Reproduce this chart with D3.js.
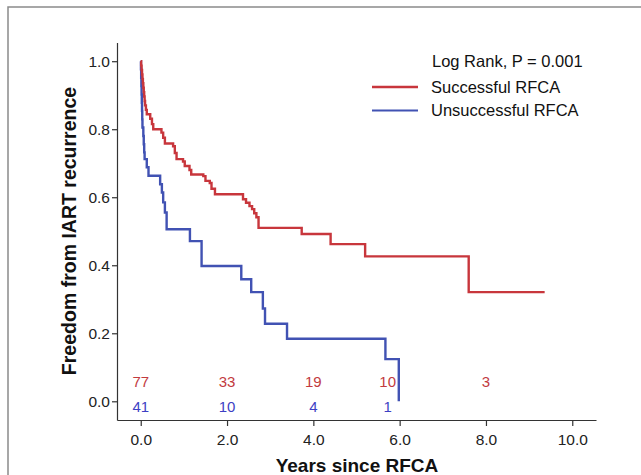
<!DOCTYPE html>
<html>
<head>
<meta charset="utf-8">
<script src="https://cdn.jsdelivr.net/npm/d3@7"></script>
<style>
  body { margin: 0; background: #fff; }
  svg { font-family: "Liberation Sans", Arial, sans-serif; }
</style>
</head>
<body>
<svg id="chart" width="641" height="475"></svg>
<script>
// Kaplan-Meier steps: [years, survival]
const successfulSteps = [
  [0, 1.0], [0.01, 0.987], [0.02, 0.974], [0.03, 0.961], [0.04, 0.948], [0.05, 0.935],
  [0.06, 0.922], [0.07, 0.909], [0.08, 0.896], [0.09, 0.883], [0.10, 0.87], [0.12, 0.857],
  [0.14, 0.844], [0.22, 0.831], [0.26, 0.815], [0.29, 0.80], [0.48, 0.79], [0.52, 0.775],
  [0.56, 0.758], [0.75, 0.75], [0.79, 0.73], [0.83, 0.712], [0.98, 0.705], [1.02, 0.692],
  [1.13, 0.68], [1.17, 0.667], [1.45, 0.662], [1.50, 0.648], [1.60, 0.642], [1.64, 0.625],
  [1.72, 0.609], [2.37, 0.594], [2.44, 0.584], [2.52, 0.574], [2.58, 0.565], [2.63, 0.553],
  [2.68, 0.541], [2.73, 0.510], [3.73, 0.492], [4.40, 0.462], [5.20, 0.426], [7.60, 0.321],
  [9.36, 0.321]
];
const unsuccessfulSteps = [
  [0, 1.0], [0.005, 0.976], [0.01, 0.951], [0.015, 0.927], [0.02, 0.902], [0.025, 0.878],
  [0.03, 0.854], [0.035, 0.829], [0.04, 0.805], [0.06, 0.78], [0.07, 0.756], [0.08, 0.732],
  [0.09, 0.712], [0.14, 0.688], [0.18, 0.663], [0.45, 0.638], [0.49, 0.614], [0.52, 0.585],
  [0.56, 0.555], [0.60, 0.506], [1.14, 0.471], [1.41, 0.398], [2.33, 0.359], [2.56, 0.321],
  [2.83, 0.273], [2.88, 0.228], [3.39, 0.184], [5.67, 0.124], [5.98, 0.0]
];
const riskTimes = [0, 2, 4, 6, 8];
const successfulAtRisk = [77, 33, 19, 10, 3];
const unsuccessfulAtRisk = [41, 10, 4, 1];
const seriesNames = ['Successful RFCA', 'Unsuccessful RFCA'];
const xTicks = [0, 2, 4, 6, 8, 10];
const yTicks = [0, 0.2, 0.4, 0.6, 0.8, 1.0];

const RED = '#c8363c';
const BLUE = '#4152b3';

const svg = d3.select('#chart');

// grey frame around the figure
svg.append('rect')
  .attr('x', 8).attr('y', 7)
  .attr('width', 700).attr('height', 500)
  .attr('fill', 'none')
  .attr('stroke', '#8a8a8a')
  .attr('stroke-width', 1.5);

const x = d3.scaleLinear().domain([-0.55, 10.55]).range([117, 596]);
const y = d3.scaleLinear().domain([-0.055, 1.055]).range([420, 42.5]);

const xAxis = svg.append('g')
  .attr('transform', 'translate(0, 420)')
  .call(d3.axisBottom(x).tickValues(xTicks).tickFormat(d3.format('.1f')).tickSize(6).tickSizeOuter(0));

const yAxis = svg.append('g')
  .attr('transform', 'translate(117, 0)')
  .call(d3.axisLeft(y).tickValues(yTicks).tickFormat(d3.format('.1f')).tickSize(5).tickSizeOuter(0));

[xAxis, yAxis].forEach(ax => {
  ax.select('.domain').attr('stroke', '#333').attr('stroke-width', 1.2);
  ax.selectAll('.tick line').attr('stroke', '#333').attr('stroke-width', 1.2);
  ax.selectAll('.tick text')
    .attr('fill', '#222')
    .style('font-size', '15.5px')
    .style('font-family', '"Liberation Sans", Arial, sans-serif');
});
xAxis.selectAll('.tick text').attr('dy', '1.0em');
yAxis.selectAll('.tick text').attr('x', -7);

// axis titles
svg.append('text')
  .attr('x', 357).attr('y', 472)
  .attr('text-anchor', 'middle')
  .style('font-size', '19px').style('font-weight', 'bold')
  .attr('fill', '#111')
  .text('Years since RFCA');

svg.append('text')
  .attr('transform', 'translate(76, 231) rotate(-90)')
  .attr('text-anchor', 'middle')
  .style('font-size', '19.5px').style('font-weight', 'bold')
  .attr('fill', '#111')
  .text('Freedom from IART recurrence');

// survival curves
const line = d3.line()
  .x(d => x(d[0]))
  .y(d => y(d[1]))
  .curve(d3.curveStepAfter);

svg.append('path')
  .datum(unsuccessfulSteps)
  .attr('d', line)
  .attr('fill', 'none')
  .attr('stroke', BLUE)
  .attr('stroke-width', 2.4);

svg.append('path')
  .datum(successfulSteps)
  .attr('d', line)
  .attr('fill', 'none')
  .attr('stroke', RED)
  .attr('stroke-width', 2.4);

// numbers at risk
const nudge = t => (t === 6 ? -12 : 0);

svg.append('g').selectAll('text')
  .data(successfulAtRisk)
  .join('text')
  .attr('x', (d, i) => x(riskTimes[i]) + nudge(riskTimes[i]))
  .attr('y', 387)
  .attr('text-anchor', 'middle')
  .attr('fill', '#c23a3e')
  .style('font-size', '15px')
  .text(d => d);

svg.append('g').selectAll('text')
  .data(unsuccessfulAtRisk)
  .join('text')
  .attr('x', (d, i) => x(riskTimes[i]) + nudge(riskTimes[i]))
  .attr('y', 412)
  .attr('text-anchor', 'middle')
  .attr('fill', '#3d3fc4')
  .style('font-size', '15px')
  .text(d => d);

// legend
const legend = svg.append('g');
legend.append('text')
  .attr('x', 432).attr('y', 67)
  .attr('fill', '#111')
  .style('font-size', '16.5px')
  .text('Log Rank, P = 0.001');

[RED, BLUE].forEach((c, i) => {
  const ly = 87 + i * 23.5;
  legend.append('line')
    .attr('x1', 372).attr('x2', 418)
    .attr('y1', ly).attr('y2', ly)
    .attr('stroke', c).attr('stroke-width', i === 0 ? 2.6 : 2);
  legend.append('text')
    .attr('x', 431).attr('y', ly + 5.5)
    .attr('fill', '#111')
    .style('font-size', '16.5px')
    .text(seriesNames[i]);
});
</script>
</body>
</html>
